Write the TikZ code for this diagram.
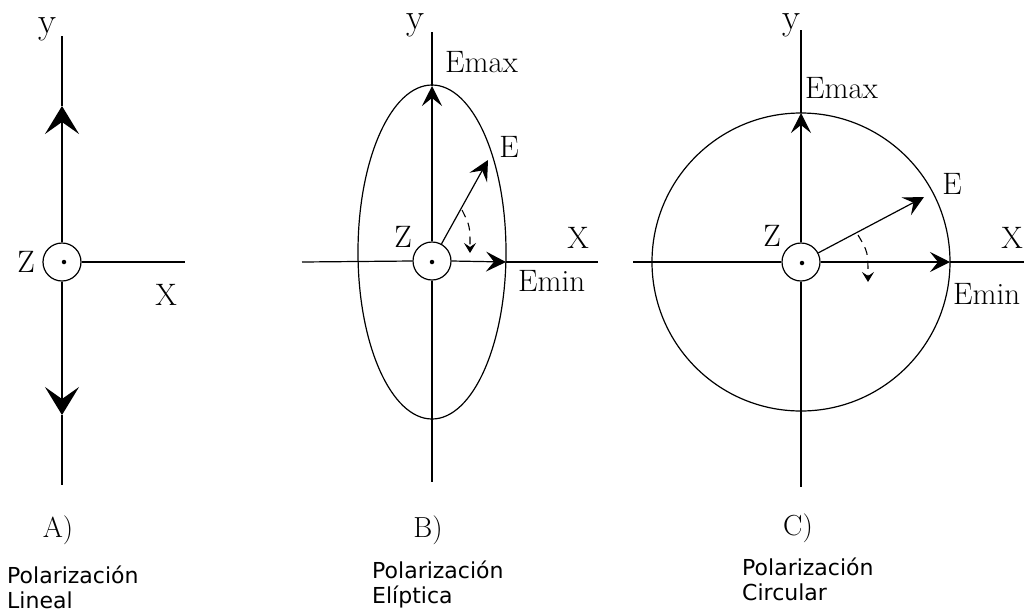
\documentclass[tikz,border=0pt]{standalone}
\usepackage{fontspec}
\newfontfamily\labsans{DejaVu Sans}
\usetikzlibrary{arrows.meta}
\tikzset{
 axis/.style={line width=1.2pt},
 thickaxis/.style={line width=1.7pt},
 orig/.style={circle,draw,line width=1.2pt,minimum size=38pt,inner sep=0pt},
 dotc/.style={circle,fill,inner sep=0pt,minimum size=4.5pt},
 lbl/.style={inner sep=0pt,font=\fontsize{31}{31}\selectfont},
 ylbl/.style={inner sep=0pt,font=\fontsize{37}{37}\selectfont},
 capt/.style={inner sep=0pt,anchor=base,font=\fontsize{29}{29}\selectfont},
 desc/.style={inner sep=0pt,anchor=base west,font=\labsans\fontsize{22}{26}\selectfont},
 vec/.style={line width=1.2pt,-{Stealth[length=20pt,width=20pt,inset=8pt]}},
 bigarrow/.style={line width=1.7pt,-{Stealth[length=28pt,width=34pt,inset=12pt]}},
 rot/.style={line width=1.1pt,dash pattern=on 8pt off 6pt,-{Stealth[length=10pt,width=12pt,inset=4pt]}},
}
\begin{document}
\begin{tikzpicture}[x=1pt,y=-1pt]
\useasboundingbox (0,0) rectangle (1026,614);

% ---------- Panel A ----------
\node[orig] (oA) at (62,262) {};
\node[dotc] (dA) at (64,262) {};
\coordinate (Atop) at (62,36);
\coordinate (Abot) at (62,485);
\coordinate (Aup) at (62,106);
\coordinate (Adn) at (62,415);
\coordinate (Ax) at (185,262);
\draw[bigarrow] (oA.north) -- (Aup);
\draw[thickaxis] (Aup) -- (Atop);
\draw[bigarrow] (oA.south) -- (Adn);
\draw[thickaxis] (Adn) -- (Abot);
\draw[axis] (oA.east) -- (Ax);
\node[ylbl] (yA) at (47,29) {y};
\node[lbl] (zA) at (26,262) {Z};
\node[lbl] (xA) at (166,295) {X};
\node[capt] (capA) at (58,537) {A)};
\node[desc] (dA1) at (7,583) {Polarización};
\node[desc] (dA2) at (7,608) {Lineal};

% ---------- Panel B ----------
\node[orig] (oB) at (432,261) {};
\node[dotc] (dB) at (432,262) {};
\draw[axis] (432,252) ellipse [x radius=74pt, y radius=167pt];
\coordinate (Btop) at (432,32);
\coordinate (Bbot) at (432,482);
\coordinate (Bxl) at (302,262);
\coordinate (Bxr) at (598,262);
\coordinate (BEmax) at (432,86);
\coordinate (BEmin) at (506,262);
\coordinate (BE) at (488,160);
\draw[axis] (Btop) -- (BEmax);
\draw[vec,line width=1.8pt] (oB.north) -- (BEmax);
\draw[axis] (oB.south) -- (Bbot);
\draw[axis] (Bxl) -- (oB.west);
\draw[vec] (oB.east) -- (BEmin);
\draw[axis] (BEmin) -- (Bxr);
\draw[vec] (oB) -- (BE);
\coordinate (Brs) at (462,210);
\coordinate (Bre) at (470,253);
\draw[rot] (Brs) .. controls (470,226) .. (Bre);
\node[ylbl] (yB) at (415,25) {y};
\node[lbl,anchor=west] (EmaxB) at (445,62) {Emax};
\node[lbl] (EB) at (509,147) {E};
\node[lbl] (zB) at (403,237) {Z};
\node[lbl] (xB) at (578,238) {X};
\node[lbl,anchor=west] (EminB) at (518,281) {Emin};
\node[capt] (capB) at (428,537) {B)};
\node[desc] (dB1) at (372,578) {Polarización};
\node[desc] (dB2) at (372,603) {Elíptica};

% ---------- Panel C ----------
\node[orig] (oC) at (801,262) {};
\node[dotc] (dC) at (802,263) {};
\draw[axis] (801,262) circle [radius=149pt];
\coordinate (Ctop) at (801,30);
\coordinate (Cbot) at (801,487);
\coordinate (Cxl) at (633,262);
\coordinate (Cxr) at (1024,262);
\coordinate (CEmax) at (801,113);
\coordinate (CEmin) at (950,262);
\coordinate (CE) at (924,197);
\draw[axis] (Ctop) -- (CEmax);
\draw[vec] (oC.north) -- (CEmax);
\draw[axis] (oC.south) -- (Cbot);
\draw[axis] (Cxl) -- (oC.west);
\draw[vec] (oC.east) -- (CEmin);
\draw[axis] (CEmin) -- (Cxr);
\draw[vec] (oC) -- (CE);
\coordinate (Crs) at (858,235);
\coordinate (Cre) at (868,282);
\draw[rot] (Crs) .. controls (868,252) .. (Cre);
\node[ylbl] (yC) at (791,25) {y};
\node[lbl,anchor=west] (EmaxC) at (805,88) {Emax};
\node[lbl] (EC) at (952,184) {E};
\node[lbl] (zC) at (772,236) {Z};
\node[lbl] (xC) at (1012,238) {X};
\node[lbl,anchor=west] (EminC) at (953,294) {Emin};
\node[capt] (capC) at (798,535) {C)};
\node[desc] (dC1) at (742,575) {Polarización};
\node[desc] (dC2) at (742,600) {Circular};
\end{tikzpicture}
\end{document}
